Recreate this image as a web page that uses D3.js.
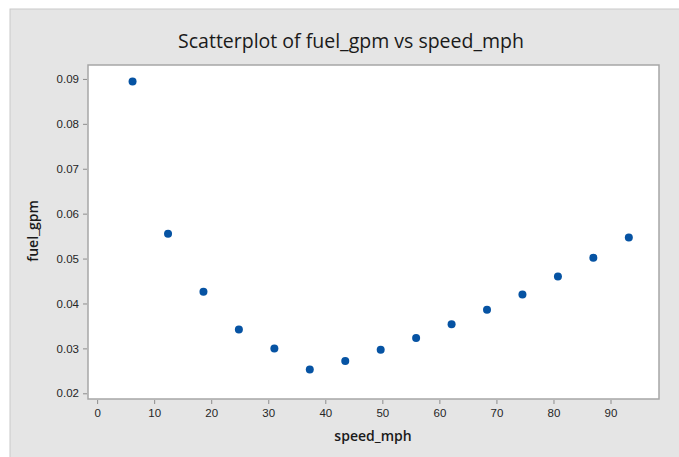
<!DOCTYPE html>
<html>
<head>
<meta charset="utf-8">
<script src="https://cdn.jsdelivr.net/npm/d3@7"></script>
<style>
  body { margin: 0; background: #fff; }
  svg { display: block; font-family: "Open Sans", sans-serif; }
  .axis path { display: none; }
  .axis line { stroke: #8c8c8c; }
  .axis text { fill: #262626; font-size: 11.5px; }
</style>
</head>
<body>
<svg width="679" height="457"></svg>
<script>
var speed = [6.21, 12.43, 18.64, 24.85, 31.07, 37.28, 43.50, 49.71, 55.92, 62.14, 68.35, 74.56, 80.78, 86.99, 93.21];
var fuel = [0.0894, 0.0555, 0.0426, 0.0342, 0.0300, 0.0253, 0.0272, 0.0297, 0.0323, 0.0354, 0.0386, 0.0420, 0.0460, 0.0502, 0.0547];
var xTicks = [0, 10, 20, 30, 40, 50, 60, 70, 80, 90];
var yTicks = [0.02, 0.03, 0.04, 0.05, 0.06, 0.07, 0.08, 0.09];

var svg = d3.select('svg');
var plot = {left: 88, top: 65, right: 659, bottom: 399};

// gray panel
svg.append('rect')
    .attr('x', 10).attr('y', 9)
    .attr('width', 679).attr('height', 460)
    .style('fill', '#e5e5e5')
    .style('stroke', '#c9c9c9');

var x = d3.scaleLinear().domain([-1.6, 98.5]).range([plot.left, plot.right]);
var y = d3.scaleLinear().domain([0.01873, 0.0931]).range([plot.bottom, plot.top]);

svg.append('rect')
    .attr('x', plot.left).attr('y', plot.top)
    .attr('width', plot.right - plot.left).attr('height', plot.bottom - plot.top)
    .style('fill', '#fff')
    .style('stroke', '#a6a6a6')
    .style('stroke-width', 1.5);

svg.append('g')
    .attr('class', 'axis')
    .attr('transform', 'translate(0,' + (plot.bottom + 1) + ')')
    .call(d3.axisBottom(x).tickValues(xTicks).tickSize(4).tickPadding(5).tickFormat(d3.format('d')));

svg.append('g')
    .attr('class', 'axis')
    .attr('transform', 'translate(' + (plot.left - 1) + ',0)')
    .call(d3.axisLeft(y).tickValues(yTicks).tickSize(4).tickPadding(4).tickFormat(d3.format('.2f')));

// points
svg.append('g')
    .selectAll('circle')
    .data(speed)
    .enter()
    .append('circle')
    .attr('cx', function(d) {return x(d);})
    .attr('cy', function(d, i) {return y(fuel[i]);})
    .attr('r', 4)
    .style('fill', '#0653a3');

// titles
svg.append('text')
    .attr('x', 351).attr('y', 48)
    .attr('text-anchor', 'middle')
    .style('font-size', '19.5px')
    .style('fill', '#1a1a1a')
    .text('Scatterplot of fuel_gpm vs speed_mph');

svg.append('text')
    .attr('x', 373).attr('y', 441)
    .attr('text-anchor', 'middle')
    .style('font-size', '14px')
    .style('font-weight', 600)
    .style('fill', '#1a1a1a')
    .text('speed_mph');

svg.append('text')
    .attr('transform', 'translate(38,231) rotate(-90)')
    .attr('text-anchor', 'middle')
    .style('font-size', '14px')
    .style('font-weight', 600)
    .style('fill', '#1a1a1a')
    .text('fuel_gpm');
</script>
</body>
</html>
